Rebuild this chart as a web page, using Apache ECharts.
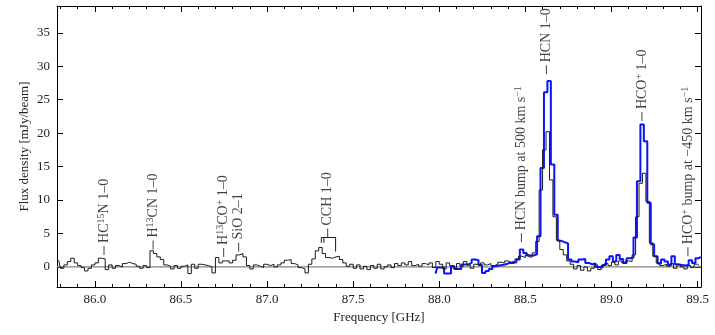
<!doctype html>
<html>
<head>
<meta charset="UTF-8">
<title>Spectrum</title>
<script src="https://cdn.jsdelivr.net/npm/echarts@6/dist/echarts.min.js"></script>
<style>
	html, body { margin: 0; padding: 0; background: #fff; }
	#chart { width: 715px; height: 335px; }
</style>
</head>
<body>
<div id="chart"></div>
<script type="text/javascript">
// axis range and ticks
var freqMin = 85.78;
var freqMax = 89.52;
var fluxMin = -3;
var fluxMax = 39;
var freqTicks = [86.0, 86.5, 87.0, 87.5, 88.0, 88.5, 89.0, 89.5];
var freqMinorTicks = [85.8, 85.9, 86.0, 86.1, 86.2, 86.3, 86.4, 86.5, 86.6, 86.7, 86.8, 86.9,
	87.0, 87.1, 87.2, 87.3, 87.4, 87.5, 87.6, 87.7, 87.8, 87.9, 88.0, 88.1, 88.2, 88.3,
	88.4, 88.5, 88.6, 88.7, 88.8, 88.9, 89.0, 89.1, 89.2, 89.3, 89.4, 89.5];
var fluxTicks = [0, 5, 10, 15, 20, 25, 30, 35];

// black spectrum: channel centres start at 85.79 GHz, 0.02 GHz wide
var blackStart = 85.79;
var blackWidth = 0.02;
var blackFlux = [
	1.0, -0.2, 0.3, 0.8, 1.3, 0.6, 0.2, -0.1, -0.6, -0.2,
	0.3, 0.6, 1.3, 1.2, -0.4, 0.3, -0.2, 0.2, 0.0, 0.5,
	0.7, 0.5, 0.4, 0.1, -0.2, 0.2, -0.1, 2.4, 2.0, 1.5,
	1.1, 0.3, 0.1, -0.3, 0.2, -0.2, 0.1, 0.3, -1.0, 0.4,
	-0.2, 0.4, 0.3, 0.2, 0.0, -0.9, 1.4, 0.6, 0.9, 0.9,
	0.6, 1.0, 1.8, 2.0, 1.5, 0.2, -0.3, 0.3, 0.1, -0.1, 0.4,
	0.2, 0.4, 0.0, 0.3, 0.6, 1.0, 1.1, 0.5, 0.3, -0.1,
	-0.3, -0.9, 0.4, 1.2, 2.4, 2.9, 2.0, 1.4, 1.3, 1.5,
	1.6, 1.1, 0.6, 0.1, 0.4,
	-0.2, 0.3, -0.3, 0.1, -0.4, 0.2, -0.2, 0.4, -0.3, 0.0,
	0.3, -0.1, 0.5, 0.2, 0.6, 0.3, 0.8, 0.2, 0.4, 0.1,
	0.5, 0.3, 0.6, -0.1, 0.8,
	0.4, -0.3, 0.6, 0.2, -0.2, 0.5, 0.1, 0.8, 0.3, -0.2,
	0.4, 0.2, 0.6, 0.3, 0.5, 0.2, 0.4, 0.7, 0.6, 0.9,
	0.7, 0.9, 1.2,
	1.6, 1.4, 1.8, 1.5, 2.1, 3.8, 11.5, 17.5, 20.2, 13.0, 7.5, 4.0,
	2.6, 1.8, 0.9, 0.4, -0.3, 0.2, -0.5, 0.0, -0.6, -0.2,
	0.3, -0.4, 0.2, 0.5, 0.2, 0.7, 0.3, 0.9, 0.6, 0.9,
	0.8, 1.8, 7.5, 12.5, 14.0, 9.8, 3.6, 1.6, 0.6, 0.2,
	0.4, 0.1, 0.5, -0.2, 0.3, 0.0, -0.3, 0.2, -0.1, 0.4, 0.2
];

// blue spectrum: channel centres start at 87.978 GHz, 0.02 GHz wide
var blueStart = 87.978;
var blueWidth = 0.02;
var blueFlux = [
	-1.0, -0.1, -0.1, -1.0, -1.0, 0.1, -0.3, -0.3, 0.35, 0.35,
	0.6, 1.1, 1.0, 0.3, -0.9, -0.6, -0.3, 0.1, 0.2, 0.3,
	0.4, 0.6, 0.6, 0.7, 1.1, 2.6, 2.1, 1.7, 1.7, 1.9,
	4.6, 14.8, 26.1, 27.8, 15.3, 7.8, 3.9, 3.7, 3.5, 1.1,
	0.8, 0.7, 1.1, 1.2, 0.6, 0.4, 0.5, 0.0, -0.1, 0.3,
	1.1, 1.6, 0.8, 1.8, 1.2, 0.6, 1.3, 1.4, 4.4, 12.8,
	21.3, 18.8, 9.6, 3.4, 1.6, 0.5, 1.1, 0.8, 0.3, 1.6,
	0.4, 0.3, 0.2, 0.3, 1.0, 0.6, 1.3, 1.5
];

// line identifications: label text, frequency, flux level of the tick foot
var lineLabels = [
	'HC{s|15}N 1–0',
	'H{s|13}CN 1–0',
	'H{s|13}CO{s|+} 1–0',
	'SiO 2–1',
	'CCH 1–0',
	'HCN bump at 500 km s{s|−1}',
	'HCN 1–0',
	'HCO{s|+} 1–0',
	'HCO{s|+} bump at −450 km s{s|−1}'
];
var lineFreqs = [86.053, 86.338, 86.748, 86.835, 87.352, 88.477, 88.622, 89.177, 89.444];
var lineLevels = [1.8, 2.6, 1.5, 2.3, 4.4, 3.7, 28.8, 21.8, 1.6];

// CCH hyperfine bracket
var cchBracketFreqs = [87.315, 87.315, 87.398, 87.398];
var cchBracketLevels = [3.6, 4.4, 4.4, 2.3];
var cchExtraLegFreq = 87.330;

var serif = "'Liberation Serif', 'DejaVu Serif', serif";

function spectrumPoints(start, width, values) {
	var pts = [];
	for (var i = 0; i < values.length; i++) {
		pts.push([start + i * width, values[i]]);
	}
	return pts;
}

function makeXAxis(position, ticks, len, showLine, showLabel) {
	return {
		type: 'value',
		position: position,
		min: freqMin,
		max: freqMax,
		splitLine: { show: false },
		axisLine: { show: showLine, onZero: false, lineStyle: { color: '#000', width: 1 } },
		axisTick: { show: true, inside: true, length: len, customValues: ticks, lineStyle: { color: '#000', width: 1 } },
		axisLabel: {
			show: showLabel,
			customValues: freqTicks,
			margin: 6,
			color: '#222',
			fontFamily: serif,
			fontSize: 13,
			formatter: function(v) { return v.toFixed(1); }
		}
	};
}

function makeYAxis(position, showLabel) {
	return {
		type: 'value',
		position: position,
		min: fluxMin,
		max: fluxMax,
		splitLine: { show: false },
		axisLine: { show: true, onZero: false, lineStyle: { color: '#000', width: 1 } },
		axisTick: { show: true, inside: true, length: 6, customValues: fluxTicks, lineStyle: { color: '#000', width: 1 } },
		axisLabel: {
			show: showLabel,
			customValues: fluxTicks,
			margin: 7,
			color: '#222',
			fontFamily: serif,
			fontSize: 13
		}
	};
}

var xBottom = makeXAxis('bottom', freqTicks, 6, true, true);
xBottom.name = 'Frequency [GHz]';
xBottom.nameLocation = 'middle';
xBottom.nameGap = 24;
xBottom.nameMoveOverlap = false;
xBottom.nameTextStyle = { color: '#222', fontFamily: serif, fontSize: 13 };

var yLeft = makeYAxis('left', true);
yLeft.name = 'Flux density [mJy/beam]';
yLeft.nameLocation = 'middle';
yLeft.nameGap = 26;
yLeft.nameMoveOverlap = false;
yLeft.nameTextStyle = { color: '#222', fontFamily: serif, fontSize: 13 };

var labelData = [];
for (var k = 0; k < lineLabels.length; k++) {
	labelData.push([lineFreqs[k], lineLevels[k], lineLabels[k]]);
}

var bracketData = [];
for (var b = 0; b < cchBracketFreqs.length; b++) {
	bracketData.push([cchBracketFreqs[b], cchBracketLevels[b]]);
}
bracketData.push('-');
bracketData.push([cchExtraLegFreq, cchBracketLevels[0]]);
bracketData.push([cchExtraLegFreq, cchBracketLevels[1]]);

var option = {
	animation: false,
	grid: { left: 57, right: 14, top: 6, bottom: 48 },
	xAxis: [
		xBottom,
		makeXAxis('bottom', freqMinorTicks, 3, false, false),
		makeXAxis('top', freqTicks, 6, true, false),
		makeXAxis('top', freqMinorTicks, 3, false, false)
	],
	yAxis: [yLeft, makeYAxis('right', false)],
	series: [{
		name: 'zero',
		type: 'line',
		data: [[freqMin, 0], [freqMax, 0]],
		symbol: 'none',
		silent: true,
		lineStyle: { color: '#808080', width: 1.2 }
	}, {
		name: 'blue',
		type: 'line',
		step: 'middle',
		data: spectrumPoints(blueStart, blueWidth, blueFlux),
		symbol: 'none',
		silent: true,
		lineStyle: { color: '#0a14ff', width: 2 }
	}, {
		name: 'black',
		type: 'line',
		step: 'middle',
		data: spectrumPoints(blackStart, blackWidth, blackFlux),
		symbol: 'none',
		silent: true,
		lineStyle: { color: '#1a1a1a', width: 1 }
	}, {
		name: 'cch bracket',
		type: 'line',
		data: bracketData,
		connectNulls: false,
		symbol: 'none',
		silent: true,
		lineStyle: { color: '#1a1a1a', width: 1 }
	}, {
		// the symbol is the short vertical tick, the label sits above it
		name: 'labels',
		type: 'scatter',
		data: labelData,
		symbol: 'rect',
		symbolSize: [1, 9],
		symbolOffset: [0, '-50%'],
		silent: true,
		itemStyle: { color: '#111' },
		label: {
			show: true,
			position: 'top',
			distance: 3,
			rotate: 90,
			align: 'left',
			verticalAlign: 'middle',
			color: '#111',
			fontFamily: serif,
			fontSize: 14,
			lineHeight: 16,
			formatter: function(p) { return p.data[2]; },
			rich: {
				s: { fontFamily: serif, fontSize: 10, lineHeight: 10, verticalAlign: 'top', color: '#111' }
			}
		}
	}]
};

var chart = echarts.init(document.getElementById('chart'));
chart.setOption(option);
</script>
</body>
</html>
